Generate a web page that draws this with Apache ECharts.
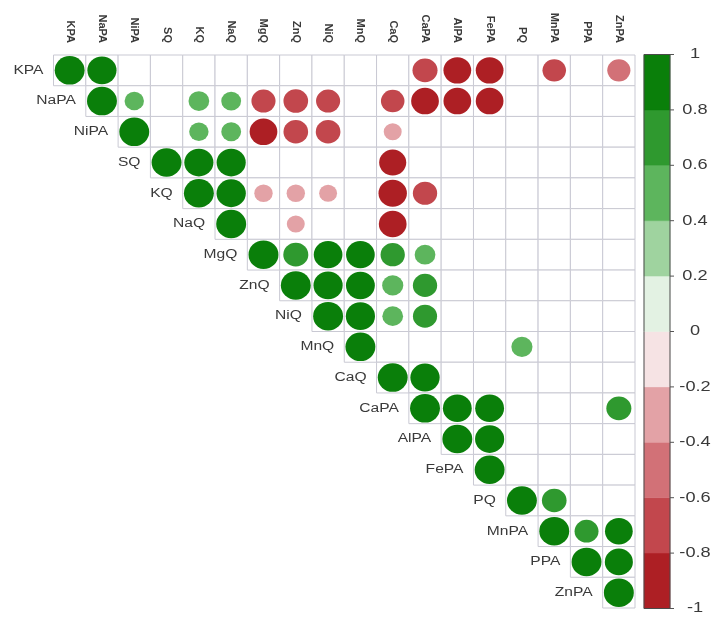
<!DOCTYPE html>
<html>
<head>
<meta charset="utf-8">
<script src="https://cdn.jsdelivr.net/npm/echarts@6/dist/echarts.min.js"></script>
<style>html,body{margin:0;padding:0;background:#fff}#c{width:715px;height:623px}</style>
</head>
<body>
<div id="c"></div>
<script>
const variables = ['KPA','NaPA','NiPA','SQ','KQ','NaQ','MgQ','ZnQ','NiQ','MnQ','CaQ','CaPA','AlPA','FePA','PQ','MnPA','PPA','ZnPA'];
// [rowIndex, colIndex, correlation] (upper triangle, non-blank cells)
const correlations = [
  [0,0,1],[0,1,0.95],[0,11,-0.7],[0,12,-0.86],[0,13,-0.86],[0,15,-0.62],[0,17,-0.6],
  [1,1,1],[1,2,0.42],[1,4,0.48],[1,5,0.44],[1,6,-0.65],[1,7,-0.68],[1,8,-0.65],[1,10,-0.62],[1,11,-0.86],[1,12,-0.86],[1,13,-0.86],
  [2,2,1],[2,4,0.42],[2,5,0.44],[2,6,-0.86],[2,7,-0.68],[2,8,-0.68],[2,10,-0.36],
  [3,3,1],[3,4,0.95],[3,5,0.95],[3,10,-0.82],
  [4,4,1],[4,5,0.96],[4,6,-0.38],[4,7,-0.38],[4,8,-0.36],[4,10,-0.9],[4,11,-0.66],
  [5,5,1],[5,7,-0.36],[5,10,-0.86],
  [6,6,1],[6,7,0.7],[6,8,0.92],[6,9,0.92],[6,10,0.66],[6,11,0.48],
  [7,7,1],[7,8,0.95],[7,9,0.93],[7,10,0.5],[7,11,0.66],
  [8,8,1],[8,9,0.95],[8,10,0.48],[8,11,0.65],
  [9,9,1],[9,14,0.5],
  [10,10,1],[10,11,0.96],
  [11,11,1],[11,12,0.93],[11,13,0.93],[11,17,0.7],
  [12,12,1],[12,13,0.95],
  [13,13,1],
  [14,14,1],[14,15,0.68],
  [15,15,1],[15,16,0.64],[15,17,0.86],
  [16,16,1],[16,17,0.88],
  [17,17,1]
];
const binEdges = [-1,-0.8,-0.6,-0.4,-0.2,0,0.2,0.4,0.6,0.8,1];
const binColors = ['#ad1f24','#c2474d','#d27177','#e3a2a6','#f6e3e4','#e3f2e3','#9fd39f','#5db55d','#2f992f','#0a7f0a'];
const colorbarTicks = [-1,-0.8,-0.6,-0.4,-0.2,0,0.2,0.4,0.6,0.8,1];

function colorFor(v){
  for (let k = 0; k < binColors.length; k++) {
    if (v < binEdges[k+1] || k === binColors.length-1) return binColors[k];
  }
}
const maxDiam = 28.5;
const stretch = 1.3;

const cellData = [];
for (let i = 0; i < variables.length; i++) for (let j = i; j < variables.length; j++) cellData.push([j, i]);

const chart = echarts.init(document.getElementById('c'));
chart.setOption({
  animation: false,
  grid: [
    {left: 53.5, right: 80, top: 55, bottom: 15},
    {left: 644, width: 26, top: 54.5, bottom: 14.5}
  ],
  xAxis: [
    {type:'category', data: variables, position:'top', gridIndex:0,
     axisLine:{show:false}, axisTick:{show:false}, splitLine:{show:false},
     axisLabel:{rotate:90, margin:12, fontSize:11, fontWeight:'bold', color:'#3a3a3a', fontFamily:'Liberation Sans, Arial, sans-serif'}},
    {type:'value', gridIndex:1, min:0, max:1, show:false}
  ],
  yAxis: [
    {type:'category', data: variables, inverse:true, gridIndex:0, show:false},
    {type:'value', gridIndex:1, min:-1, max:1, interval:0.2, show:false}
  ],
  series: [
    {
      type:'custom', xAxisIndex:0, yAxisIndex:0, data: cellData, z:1,
      renderItem: (params, api) => {
        const j = api.value(0), i = api.value(1);
        const c = api.coord([j, i]);
        const s = api.size([1, 1]);
        const children = [{
          type:'rect',
          shape:{x: c[0]-s[0]/2, y: c[1]-s[1]/2, width: s[0], height: s[1]},
          style:{fill:'#fff', stroke:'#c9c9d3', lineWidth:1}
        }];
        if (i === j) {
          const xr = c[0]-s[0]/2-10;
          children.push({
            type:'text', x: xr, y: c[1], scaleX: stretch,
            style:{x: 0, y: 0, text: variables[i], textAlign:'right', textVerticalAlign:'middle',
                   fill:'#3a3a3a', font:'12px "Liberation Sans", Arial, sans-serif'}
          });
        }
        return {type:'group', children};
      }
    },
    {
      type:'scatter', xAxisIndex:0, yAxisIndex:0, z:3,
      data: correlations.map(d => [d[1], d[0], d[2]]),
      symbol:'circle',
      symbolSize: v => { const d = maxDiam * Math.sqrt(Math.abs(v[2])); return [d*1.05, d]; },
      itemStyle:{color: p => colorFor(p.value[2]), opacity:1}
    },
    {
      type:'custom', xAxisIndex:1, yAxisIndex:1, z:2,
      data: binColors.map((col, k) => [binEdges[k], binEdges[k+1], k]),
      renderItem: (params, api) => {
        const lo = api.coord([0, api.value(0)]);
        const hi = api.coord([1, api.value(1)]);
        return {type:'rect', shape:{x: lo[0], y: hi[1], width: hi[0]-lo[0], height: lo[1]-hi[1]},
                style:{fill: binColors[api.value(2)], stroke: binColors[api.value(2)], lineWidth:0.5}};
      }
    },
    {
      type:'custom', xAxisIndex:1, yAxisIndex:1, z:4,
      data: [[-1, 1]],
      renderItem: (params, api) => {
        const lo = api.coord([0, api.value(0)]);
        const hi = api.coord([1, api.value(1)]);
        return {type:'rect', shape:{x: lo[0], y: hi[1], width: hi[0]-lo[0], height: lo[1]-hi[1]},
                style:{fill: null, stroke:'#4a4a4a', lineWidth:1}};
      }
    },
    {
      type:'custom', xAxisIndex:1, yAxisIndex:1, z:4,
      data: colorbarTicks.map(t => [1, t]),
      renderItem: (params, api) => {
        const p = api.coord([1, api.value(1)]);
        const v = Math.round(api.value(1)*10)/10;
        return {type:'group', children:[
          {type:'line', shape:{x1:p[0], y1:p[1], x2:p[0]+4, y2:p[1]}, style:{stroke:'#555', lineWidth:1}},
          {type:'text', x: p[0]+25, y: p[1], scaleX: stretch,
           style:{x:0, y:0, text: String(v), textAlign:'center', textVerticalAlign:'middle',
                  fill:'#3a3a3a', font:'14px "Liberation Sans", Arial, sans-serif'}}
        ]};
      }
    }
  ]
});
</script>
</body>
</html>
